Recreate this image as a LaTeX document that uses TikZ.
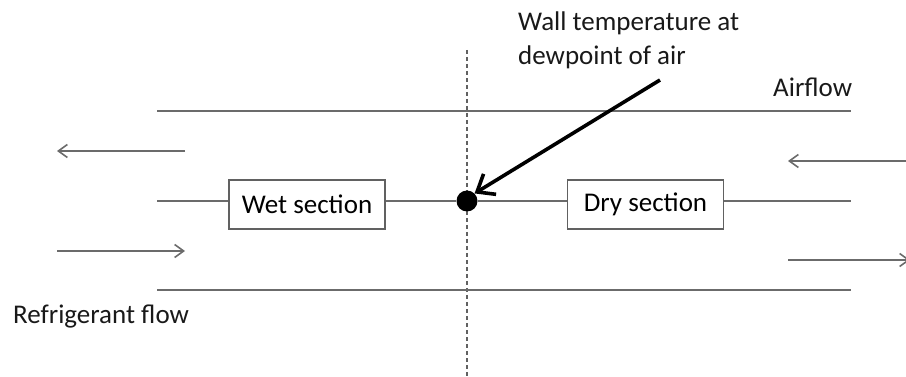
\documentclass[tikz,border=0pt]{standalone}
\usepackage{fontspec}
\setmainfont{Carlito}
\usetikzlibrary{arrows.meta}
\begin{document}
\begin{tikzpicture}[x=1pt,y=-1pt,
  wall/.style={draw=black!58, line width=2pt},
  flow/.style={draw=black!58, line width=1.6pt, -{Straight Barb[length=9pt,width=13pt]}},
  section/.style={draw=black!62, line width=1.6pt, fill=white, minimum width=156pt, minimum height=49pt, inner sep=0pt, font=\fontsize{27}{32}\selectfont},
  label/.style={inner sep=0pt, font=\fontsize{27}{34}\selectfont, text=black!90},
  pointer/.style={draw=black, line width=3.6pt, -{Straight Barb[length=15pt,width=24pt]}}]
  \useasboundingbox (0,0) rectangle (906,377);
  \clip (0,0) rectangle (906,377);

  % divider between the wet and dry parts
  \coordinate (divtop) at (467,50);
  \coordinate (divbot) at (467,377);
  \draw[black!62, line width=1.5pt, dash pattern=on 4pt off 3pt] (divtop) -- (divbot);

  % channel walls
  \coordinate (topL) at (157,111);
  \coordinate (topR) at (851,111);
  \coordinate (botL) at (157,290);
  \coordinate (botR) at (851,290);
  \draw[wall] (topL) -- (topR);
  \draw[wall] (botL) -- (botR);

  % tube with its two sections
  \coordinate (midL) at (157,201);
  \coordinate (midR) at (851,201);
  \node[section] (wet) at (307,204.5) {Wet section};
  \node[section] (dry) at (645.5,204.5) {Dry section};
  \node[circle, fill=black, minimum size=21pt, inner sep=0pt] (dew) at (467,201) {};
  \draw[wall] (midL) -- (midL -| wet.west);
  \draw[wall] (wet.east |- midL) -- (dew);
  \draw[wall] (dew) -- (dry.west |- midL);
  \draw[wall] (dry.east |- midL) -- (midR);

  % refrigerant flow arrows
  \coordinate (rlA) at (185,151);
  \coordinate (rlB) at (57,151);
  \coordinate (rrA) at (57,251);
  \coordinate (rrB) at (185,251);
  \draw[flow] (rlA) -- (rlB);
  \draw[flow] (rrA) -- (rrB);

  % air flow arrows
  \coordinate (alA) at (906,161);
  \coordinate (alB) at (788,161);
  \coordinate (arA) at (788,260);
  \coordinate (arB) at (910,260);
  \draw[flow] (alA) -- (alB);
  \draw[flow] (arA) -- (arB);

  % labels
  \node[label, anchor=north west, align=left] (walltxt) at (518,12)
    {Wall temperature at\\dewpoint of air};
  \node[label, anchor=base west] (airflow) at (773,97) {Airflow};
  \node[label, anchor=base west] (refflow) at (13,323) {Refrigerant flow};

  % pointer to the dewpoint location
  \coordinate (ptail) at (660,80);
  \draw[pointer] (ptail) -- (dew.north east);
\end{tikzpicture}
\end{document}
